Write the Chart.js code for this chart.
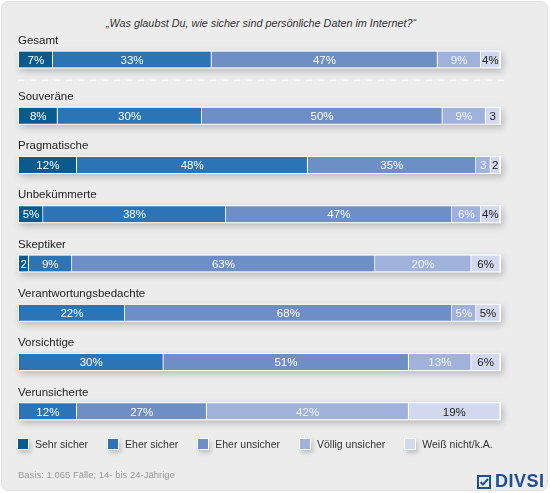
<!DOCTYPE html>
<html>
<head>
<meta charset="utf-8">
<script src="https://cdn.jsdelivr.net/npm/chart.js@4.4.1/dist/chart.umd.min.js"></script>
<style>
  body { margin: 0; background: #fff; font-family: "Liberation Sans", Arial, sans-serif; }
  #panel { position: absolute; left: 1px; top: 1px; width: 545px; height: 488px; background: #ececec;
           border: 1px solid #e2e2e2; border-radius: 7px; }
  #title { position: absolute; left: 0; top: 17px; width: 522px; text-align: center;
           font-style: italic; font-size: 10.8px; color: #333; }
  .wrap { position: absolute; left: 0; width: 550px; }
  #wrapA { top: 0; height: 85px; }
  #wrapB { top: 80px; height: 370px; }
  #legend { position: absolute; left: 17px; top: 438px; display: flex; font-size: 10.5px; color: #333;
            white-space: nowrap; }
  #legend .item { display: flex; align-items: center; margin-right: 19px; }
  #legend .box { width: 10px; height: 10px; border: 1px solid #fff; margin-right: 6px;
                 box-shadow: 2px 3px 4px rgba(0,0,0,0.18); }
  #footer { position: absolute; left: 18px; top: 469px; font-size: 9.5px; color: #999; }
  #logo { position: absolute; left: 477px; top: 471px; display: flex; align-items: center;
          color: #1f4e96; font-weight: bold; font-size: 18px; letter-spacing: 0.5px; }
  #logo svg { margin-right: 4px; }
</style>
</head>
<body>
<div id="panel"></div>
<div id="title">„Was glaubst Du, wie sicher sind persönliche Daten im Internet?“</div>
<div class="wrap" id="wrapA"><canvas id="chartA"></canvas></div>
<div class="wrap" id="wrapB"><canvas id="chartB"></canvas></div>
<div id="legend"></div>
<div id="footer">Basis: 1.065 Fälle; 14- bis 24-Jährige</div>
<div id="logo">
  <svg width="14" height="14" viewBox="0 0 14 14">
    <rect x="1" y="1" width="12" height="12" fill="none" stroke="#1f4e96" stroke-width="2"/>
    <path d="M3.5 7 L6 9.5 L11 4" fill="none" stroke="#1f4e96" stroke-width="2"/>
  </svg>DIVSI
</div>
<script>
// Daten
let categories = ['Gesamt', 'Souveräne', 'Pragmatische', 'Unbekümmerte', 'Skeptiker',
                  'Verantwortungsbedachte', 'Vorsichtige', 'Verunsicherte'];
let seriesNames = ['Sehr sicher', 'Eher sicher', 'Eher unsicher', 'Völlig unsicher', 'Weiß nicht/k.A.'];
let sehrSicher      = [7, 8, 12, 5, 2, 0, 0, 0];
let eherSicher      = [33, 30, 48, 38, 9, 22, 30, 12];
let eherUnsicher    = [47, 50, 35, 47, 63, 68, 51, 27];
let voelligUnsicher = [9, 9, 3, 6, 20, 5, 13, 42];
let weissNicht      = [4, 3, 2, 4, 6, 5, 6, 19];

let seriesColors = ['#0b5a8e', '#2b74b6', '#6d8fc6', '#a0b2dc', '#d2d9ee'];
let textColors = ['#ffffff', '#ffffff', '#ffffff', '#f2f5fb', '#222222'];
let allSeries = [sehrSicher, eherSicher, eherUnsicher, voelligUnsicher, weissNicht];

function makeDatasets(from, to) {
    return allSeries.map(function(values, i) {
        return {
            label: seriesNames[i],
            data: values.slice(from, to),
            backgroundColor: seriesColors[i],
            borderColor: '#ffffff',
            borderWidth: { top: 0, right: 1, bottom: 0, left: 0 },
            borderSkipped: false,
            barThickness: 16,
            textColor: textColors[i]
        };
    });
}

// weißer Rahmen mit Schatten hinter jedem Balken
const frameShadow = {
    id: 'frameShadow',
    beforeDatasetsDraw(chart) {
        let ctx = chart.ctx;
        let area = chart.chartArea;
        let meta = chart.getDatasetMeta(0);
        ctx.save();
        meta.data.forEach(function(bar) {
            ctx.shadowColor = 'rgba(0,0,0,0.22)';
            ctx.shadowBlur = 7;
            ctx.shadowOffsetX = 2;
            ctx.shadowOffsetY = 3;
            ctx.fillStyle = '#ffffff';
            ctx.fillRect(area.left - 1, bar.y - 9, area.right - area.left + 2, 18);
        });
        ctx.restore();
    }
};

// Gruppennamen und Prozentwerte
const barTexts = {
    id: 'barTexts',
    afterDatasetsDraw(chart) {
        let ctx = chart.ctx;
        let area = chart.chartArea;
        ctx.save();
        ctx.textBaseline = 'middle';
        // Kategorienamen über den Balken
        ctx.font = '11.5px "Liberation Sans", Arial, sans-serif';
        ctx.fillStyle = '#222';
        ctx.textAlign = 'left';
        chart.getDatasetMeta(0).data.forEach(function(bar, i) {
            ctx.fillText(chart.data.labels[i], area.left - 1, bar.y - 19);
        });
        // Werte in den Segmenten
        ctx.font = '11.5px "Liberation Sans", Arial, sans-serif';
        ctx.textAlign = 'center';
        chart.data.datasets.forEach(function(ds, d) {
            chart.getDatasetMeta(d).data.forEach(function(bar, i) {
                let v = ds.data[i];
                if (!v) return;
                let txt = v < 4 ? String(v) : v + '%';
                ctx.fillStyle = ds.textColor;
                ctx.fillText(txt, (bar.x + bar.base) / 2, bar.y + 1);
            });
        });
        ctx.restore();
    }
};

// gestrichelte Trennlinie unter "Gesamt"
const dashLine = {
    id: 'dashLine',
    afterDraw(chart) {
        let ctx = chart.ctx;
        ctx.save();
        ctx.strokeStyle = '#ffffff';
        ctx.lineWidth = 1.5;
        ctx.setLineDash([6, 6]);
        ctx.beginPath();
        ctx.moveTo(18, 80.5);
        ctx.lineTo(507, 80.5);
        ctx.stroke();
        ctx.restore();
    }
};

function baseOptions(padTop, padBottom) {
    return {
        indexAxis: 'y',
        responsive: true,
        maintainAspectRatio: false,
        animation: false,
        layout: { padding: { left: 19, right: 50, top: padTop, bottom: padBottom } },
        plugins: { legend: { display: false }, tooltip: { enabled: false }, title: { display: false } },
        scales: {
            x: { stacked: true, min: 0, max: 100, display: false },
            y: { stacked: true, display: false }
        }
    };
}

new Chart(document.getElementById('chartA').getContext('2d'), {
    type: 'bar',
    data: { labels: categories.slice(0, 1), datasets: makeDatasets(0, 1) },
    options: baseOptions(51, 17),
    plugins: [frameShadow, barTexts, dashLine]
});

new Chart(document.getElementById('chartB').getContext('2d'), {
    type: 'bar',
    data: { labels: categories.slice(1), datasets: makeDatasets(1, 8) },
    options: baseOptions(11, 14),
    plugins: [frameShadow, barTexts]
});

// Legende
let legend = document.getElementById('legend');
seriesNames.forEach(function(name, i) {
    let item = document.createElement('div');
    item.className = 'item';
    item.innerHTML = '<span class="box" style="background:' + seriesColors[i] + '"></span>' + name;
    legend.appendChild(item);
});
</script>
</body>
</html>
